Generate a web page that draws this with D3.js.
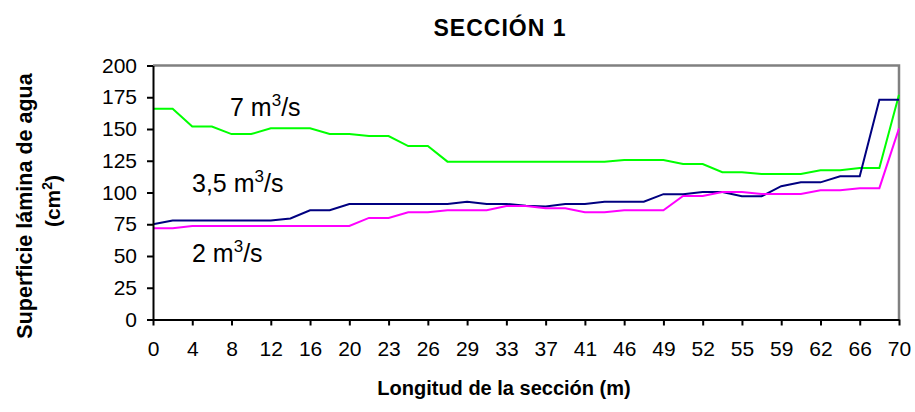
<!DOCTYPE html>
<html><head><meta charset="utf-8">
<script src="https://cdn.jsdelivr.net/npm/d3@7"></script>
<style>
html,body{margin:0;padding:0;background:#fff;}
svg{display:block;font-family:"Liberation Sans",Arial,sans-serif;}
</style></head>
<body>
<svg id="chart" width="915" height="412"></svg>
<script>
// ---- data ----
const xCategories = [0,2,4,6,8,10,12,14,16,18,20,22,23,25,26,28,29,31,33,35,37,39,41,44,46,48,49,51,52,54,55,57,59,61,62,64,66,68,70];
const xTickLabels = [0,4,8,12,16,20,23,26,29,33,37,41,46,49,52,55,59,62,66,70];
const yTicks = [0,25,50,75,100,125,150,175,200];
const seriesNames = ["7", "3,5", "2"];
const q7 = [166,166,152,152,146,146,150.5,150.5,150.5,146,146,144.5,144.5,136.6,136.6,124.3,124.3,124.3,124.3,124.3,124.3,124.3,124.3,124.3,125.5,125.5,125.5,122.4,122.4,116,116,114.6,114.6,114.6,117.5,117.5,119.2,119.2,177];
const q35 = [75,78,78,78,78,78,78,79.5,86,86,91,91,91,91,91,91,92.8,91,91,89.5,89,91,91,92.7,92.7,92.7,98.7,98.7,100.4,100.4,97,97,105,108,108,112.8,112.8,173,173];
const q2 = [71.8,71.8,73.6,73.6,73.6,73.6,73.6,73.6,73.6,73.6,73.6,80,80,84.4,84.4,86,86,86,89.4,89.4,87.6,87.6,84.5,84.5,86,86,86,97.2,97.2,100.4,100.4,98.8,98.8,98.8,101.8,101.8,103.4,103.4,150.5];
const seriesColors = ["#00FF00", "#000080", "#FF00FF"];

const svg = d3.select("#chart");
const pLeft = 153, pRight = 899, pTop = 65.5, pBottom = 319.5;

const x = d3.scalePoint().domain(xCategories.map(String)).range([pLeft, pRight]);
const y = d3.scaleLinear().domain([0, 200]).range([pBottom, pTop]);

// plot area border (grey top/right)
svg.append("path")
  .attr("d", `M${pLeft},${pTop}H${pRight}V${pBottom}`)
  .attr("fill", "none").attr("stroke", "#808080").attr("stroke-width", 2.5);

// lines
const line = d3.line().x((d, i) => x(String(xCategories[i]))).y(d => y(d));
[q7, q35, q2].forEach((s, k) => {
  svg.append("path").datum(s)
    .attr("d", line)
    .attr("fill", "none")
    .attr("stroke", seriesColors[k])
    .attr("stroke-width", 2)
    .attr("stroke-linejoin", "miter");
});

// axes
const yAxis = svg.append("g").attr("transform", `translate(${pLeft},0)`)
  .call(d3.axisLeft(y).tickValues(yTicks).tickSize(6).tickPadding(10).tickSizeOuter(0));
const xAxis = svg.append("g").attr("transform", `translate(0,${pBottom})`)
  .call(d3.axisBottom(x).tickValues(xTickLabels.map(String)).tickSize(6).tickPadding(16).tickSizeOuter(0));
[yAxis, xAxis].forEach(g => {
  g.select(".domain").attr("stroke", "#000").attr("stroke-width", 2);
  g.selectAll(".tick line").attr("stroke", "#000").attr("stroke-width", 2);
  g.selectAll(".tick text").attr("fill", "#000")
    .style("font-family", '"Liberation Sans",Arial,sans-serif').style("font-size", "21px");
});

// series labels with superscript
function supLabel(xp, yp, pre) {
  const t = svg.append("text").attr("x", xp).attr("y", yp)
    .style("font-size", "25px").attr("fill", "#000");
  t.append("tspan").text(pre + " m");
  t.append("tspan").attr("dy", -10).style("font-size", "17px").text("3");
  t.append("tspan").attr("dy", 10).text("/s");
}
supLabel(230, 116, seriesNames[0]);
supLabel(192, 191.5, seriesNames[1]);
supLabel(192, 261.5, seriesNames[2]);

// title
svg.append("text").attr("x", 500).attr("y", 36).attr("text-anchor", "middle")
  .style("font-size", "23px").style("font-weight", "bold").style("letter-spacing", "1px")
  .text("SECCIÓN 1");

// x axis title
svg.append("text").attr("x", 504).attr("y", 395).attr("text-anchor", "middle")
  .style("font-size", "20px").style("font-weight", "bold").text("Longitud de la sección (m)");

// y axis title
svg.append("text").attr("transform", "translate(32,206) rotate(-90)")
  .attr("text-anchor", "middle").style("font-size", "21.5px").style("font-weight", "bold")
  .text("Superficie lámina de agua");
const yt2 = svg.append("text").attr("transform", "translate(60,201) rotate(-90)")
  .attr("text-anchor", "middle").style("font-size", "21px").style("font-weight", "bold");
yt2.append("tspan").text("(cm");
yt2.append("tspan").attr("dy", -8).style("font-size", "14px").text("2");
yt2.append("tspan").attr("dy", 8).text(")");
</script>
</body></html>
